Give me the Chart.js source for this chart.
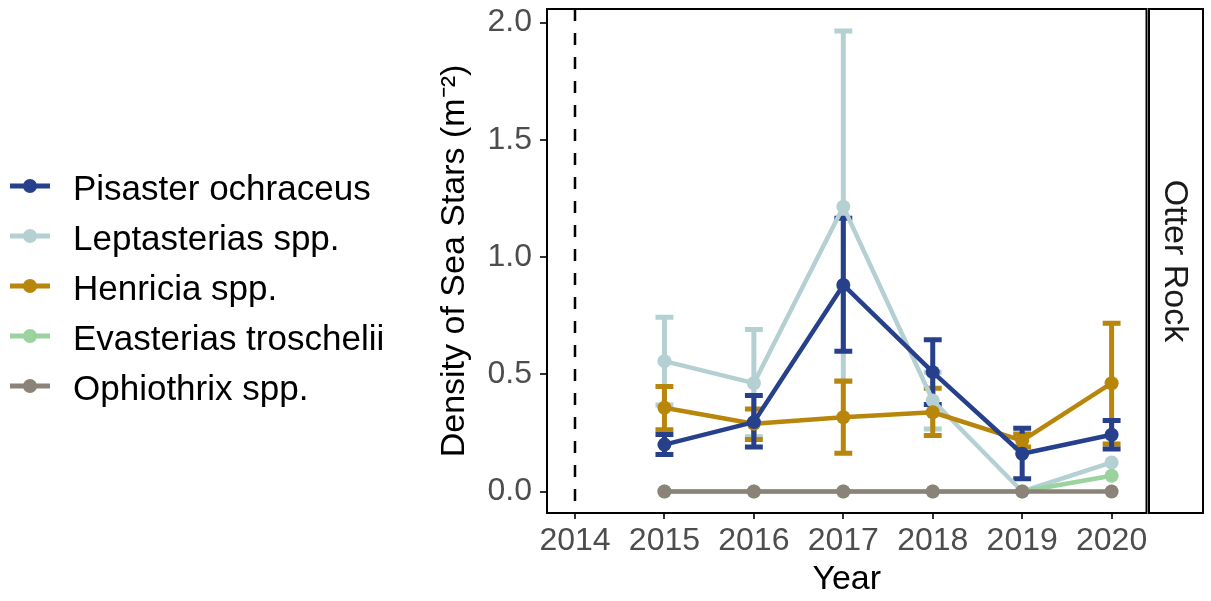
<!DOCTYPE html>
<html>
<head>
<meta charset="utf-8">
<script src="https://cdn.jsdelivr.net/npm/chart.js@4.4.0/dist/chart.umd.min.js"></script>
<style>
html,body{margin:0;padding:0;background:#ffffff;}
#wrap{width:1211px;height:601px;position:relative;}
</style>
</head>
<body>
<div id="wrap"><canvas id="c" width="1211" height="601"></canvas></div>
<script>
// ---------------- data ----------------
const years = [2015, 2016, 2017, 2018, 2019, 2020];
const xTickYears = [2014, 2015, 2016, 2017, 2018, 2019, 2020];
const yTickValues = [0, 0.5, 1.0, 1.5, 2.0];
const referenceYear = 2014;
const stripLabel = "Otter Rock";
const xTitle = "Year";
const yTitle = "Density of Sea Stars (m\u207B\u00B2)";

const speciesNames = ["Pisaster ochraceus", "Leptasterias spp.", "Henricia spp.", "Evasterias troschelii", "Ophiothrix spp."];
const speciesColors = ["#27408B", "#B5D0D3", "#B8860B", "#9BD39E", "#8B8378"];

const pisasterMean = [0.200, 0.296, 0.881, 0.509, 0.161, 0.242];
const pisasterLow  = [0.158, 0.190, 0.598, 0.371, 0.054, 0.181];
const pisasterHigh = [0.243, 0.410, 1.165, 0.647, 0.270, 0.303];

const leptasteriasMean = [0.556, 0.462, 1.215, 0.388, 0.000, 0.124];
const leptasteriasLow  = [0.369, 0.233, 0.469, 0.267, null, null];
const leptasteriasHigh = [0.743, 0.691, 1.964, 0.509, null, null];

const henriciaMean = [0.357, 0.289, 0.317, 0.338, 0.217, 0.462];
const henriciaLow  = [0.263, 0.222, 0.163, 0.239, 0.190, 0.203];
const henriciaHigh = [0.448, 0.352, 0.471, 0.440, 0.245, 0.718];

const evasteriasMean = [0, 0, 0, 0, 0, 0.067];
const ophiothrixMean = [0, 0, 0, 0, 0, 0];

const seriesMeans = [pisasterMean, leptasteriasMean, henriciaMean, evasteriasMean, ophiothrixMean];
const seriesLows  = [pisasterLow, leptasteriasLow, henriciaLow, null, null];
const seriesHighs = [pisasterHigh, leptasteriasHigh, henriciaHigh, null, null];
// drawing rank (0 = drawn on top)
const drawRank = [1, 4, 2, 3, 0];

// ---------------- chart ----------------
const FONT = "'Liberation Sans', Arial, Helvetica, sans-serif";

const datasets = speciesNames.map((name, i) => ({
  label: name,
  data: years.map((yr, j) => ({x: yr, y: seriesMeans[i][j]})),
  borderColor: speciesColors[i],
  backgroundColor: speciesColors[i],
  pointBackgroundColor: speciesColors[i],
  pointBorderWidth: 0,
  pointRadius: 7,
  pointHoverRadius: 7,
  borderWidth: 4.5,
  borderJoinStyle: 'round',
  borderCapStyle: 'butt',
  tension: 0,
  order: drawRank[i]
}));

const decor = {
  id: 'decor',
  beforeDatasetsDraw(chart) {
    const ctx = chart.ctx, xs = chart.scales.x, ys = chart.scales.y, a = chart.chartArea;
    ctx.save();
    ctx.strokeStyle = '#000';
    ctx.lineWidth = 2.5;
    ctx.setLineDash([12, 12]);
    const vx = xs.getPixelForValue(referenceYear);
    ctx.beginPath();
    ctx.moveTo(vx, a.top);
    ctx.lineTo(vx, a.bottom);
    ctx.stroke();
    ctx.restore();
    const idx = speciesNames.map((_, i) => i).sort((p, q) => drawRank[q] - drawRank[p]);
    ctx.save();
    ctx.lineCap = 'butt';
    ctx.lineWidth = 5;
    idx.forEach(i => {
      const lo = seriesLows[i], hi = seriesHighs[i];
      if (!lo || !hi) return;
      ctx.strokeStyle = speciesColors[i];
      years.forEach((yr, j) => {
        if (lo[j] == null || hi[j] == null) return;
        const x = xs.getPixelForValue(yr);
        const xl = xs.getPixelForValue(yr - 0.1), xr = xs.getPixelForValue(yr + 0.1);
        const yl = ys.getPixelForValue(lo[j]), yh = ys.getPixelForValue(hi[j]);
        ctx.beginPath();
        ctx.moveTo(xl, yh); ctx.lineTo(xr, yh);
        ctx.moveTo(x, yh); ctx.lineTo(x, yl);
        ctx.moveTo(xl, yl); ctx.lineTo(xr, yl);
        ctx.stroke();
      });
    });
    ctx.restore();
  },
  afterDraw(chart) {
    const ctx = chart.ctx, a = chart.chartArea;
    ctx.save();
    ctx.strokeStyle = '#000';
    ctx.lineWidth = 2;
    ctx.strokeRect(a.left, a.top, a.right - a.left, a.bottom - a.top);
    const sx = a.right + 2.5, sw = 54;
    ctx.fillStyle = '#fff';
    ctx.fillRect(sx, a.top, sw, a.bottom - a.top);
    ctx.strokeRect(sx, a.top, sw, a.bottom - a.top);
    ctx.translate(sx + sw / 2, (a.top + a.bottom) / 2);
    ctx.rotate(Math.PI / 2);
    ctx.fillStyle = '#1A1A1A';
    ctx.font = '34px ' + FONT;
    ctx.textAlign = 'center';
    ctx.textBaseline = 'middle';
    ctx.fillText(stripLabel, 0, 2);
    ctx.restore();
    ctx.save();
    speciesNames.forEach((name, i) => {
      const y = 186 + i * 50;
      ctx.strokeStyle = speciesColors[i];
      ctx.lineWidth = 5;
      ctx.lineCap = 'butt';
      ctx.beginPath();
      ctx.moveTo(10, y); ctx.lineTo(50, y);
      ctx.stroke();
      ctx.fillStyle = speciesColors[i];
      ctx.beginPath();
      ctx.arc(30, y, 7, 0, Math.PI * 2);
      ctx.fill();
      ctx.fillStyle = '#000';
      ctx.font = '35px ' + FONT;
      ctx.textAlign = 'left';
      ctx.textBaseline = 'middle';
      ctx.fillText(name, 73, y + 4);
    });
    ctx.restore();
  }
};

new Chart(document.getElementById('c'), {
  type: 'line',
  data: {datasets},
  options: {
    responsive: false,
    animation: false,
    devicePixelRatio: 1,
    layout: {padding: {left: 420, right: 64.5, top: 9, bottom: 0}},
    plugins: {legend: {display: false}, tooltip: {enabled: false}},
    scales: {
      x: {
        type: 'linear',
        min: 2013.687,
        max: 2020.39,
        afterBuildTicks: s => { s.ticks = xTickYears.map(v => ({value: v})); },
        afterFit: s => { s.height = 88; s.paddingLeft = 0; s.paddingRight = 0; },
        ticks: {
          callback: v => String(v),
          font: {size: 32, family: FONT},
          color: '#4D4D4D',
          padding: 3,
          maxRotation: 0,
          autoSkip: false
        },
        grid: {display: true, drawOnChartArea: false, drawTicks: true, tickLength: 6, color: '#333333', lineWidth: 2},
        border: {display: false},
        title: {display: true, text: xTitle, color: '#000', font: {size: 34, family: FONT}, padding: {top: 0, bottom: 1}}
      },
      y: {
        type: 'linear',
        min: -0.0917,
        max: 2.058,
        afterBuildTicks: s => { s.ticks = yTickValues.map(v => ({value: v})); },
        afterFit: s => { s.width = 127; s.paddingTop = 0; s.paddingBottom = 0; },
        ticks: {
          callback: v => Number(v).toFixed(1),
          font: {size: 32, family: FONT},
          color: '#4D4D4D',
          padding: 8
        },
        grid: {display: true, drawOnChartArea: false, drawTicks: true, tickLength: 7, color: '#333333', lineWidth: 2},
        border: {display: false},
        title: {display: true, text: yTitle, color: '#000', font: {size: 34, family: FONT}, padding: {top: 14, bottom: 0}}
      }
    }
  },
  plugins: [decor]
});
</script>
</body>
</html>
